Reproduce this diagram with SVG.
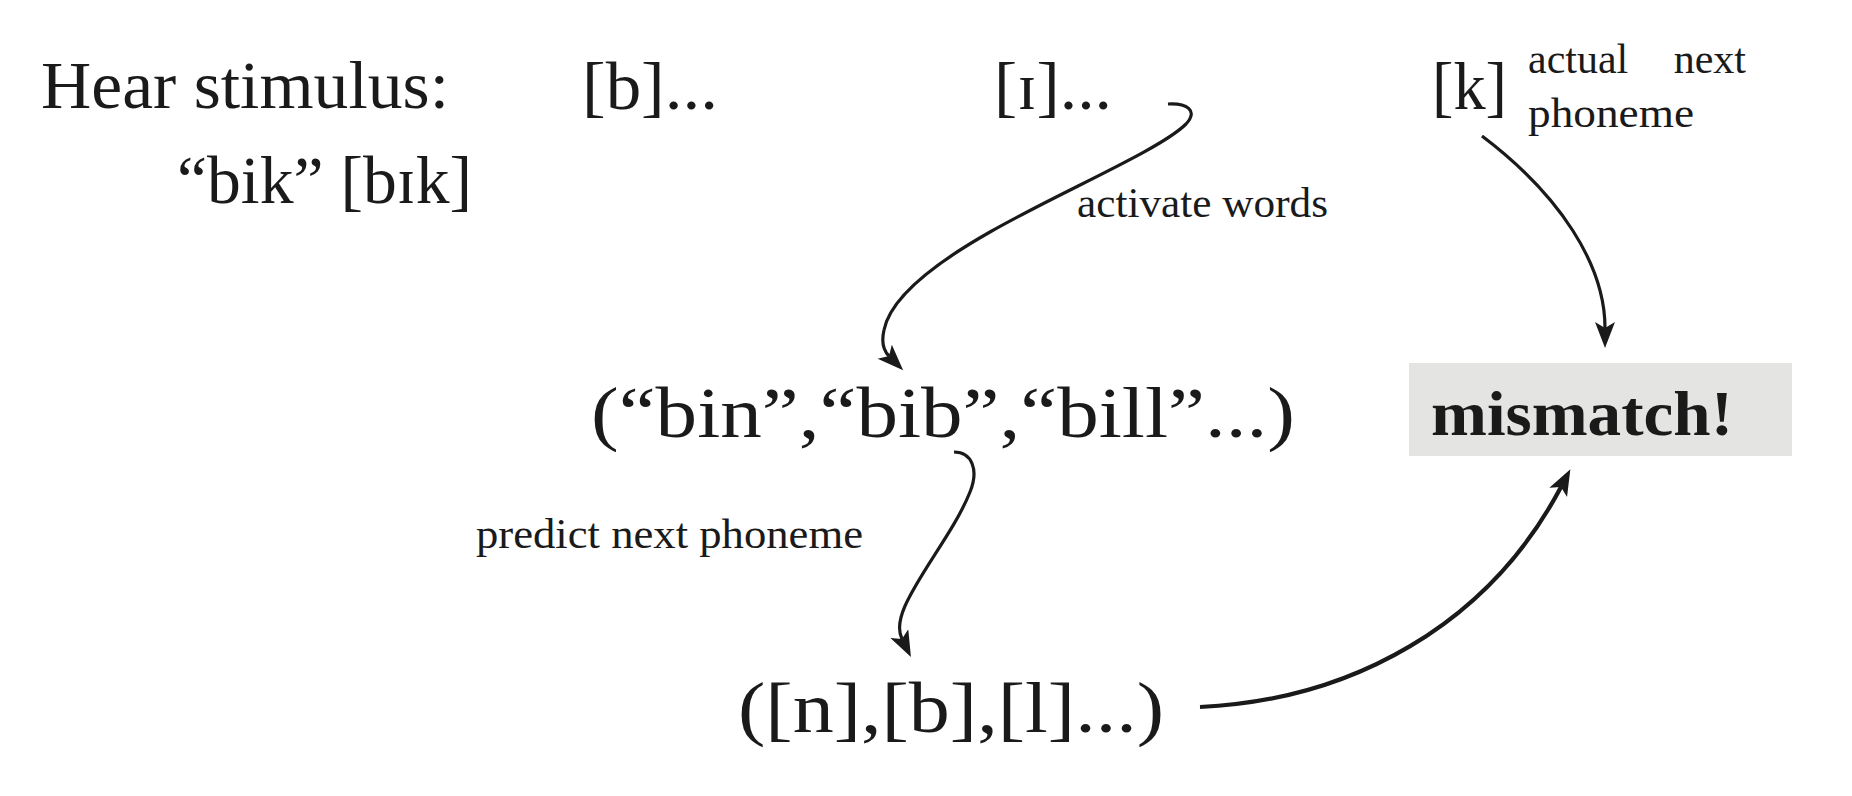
<svg xmlns="http://www.w3.org/2000/svg" width="1852" height="796" viewBox="0 0 1852 796">
<style>
text{font-family:"Liberation Serif","Times New Roman",serif;fill:#1a1a1a}
.big{font-size:68px}
.huge{font-size:72px}
.small{font-size:42px}
.bold{font-weight:bold;font-size:64px}
.conn{fill:none;stroke:#1a1a1a;stroke-width:3.2;stroke-linecap:butt}
.thick{stroke-width:4.2}
</style>
<defs>
<marker id="arr" markerUnits="userSpaceOnUse" markerWidth="30" markerHeight="24" viewBox="0 0 30 24" refX="6" refY="10" orient="auto">
<path d="M0,0 L26,10 L0,20 L6,10 Z" fill="#1a1a1a"/>
</marker>
</defs>
<rect width="1852" height="796" fill="#ffffff"/>

<g id="stimulus">
<text class="big" x="41" y="108" textLength="408" lengthAdjust="spacingAndGlyphs">Hear stimulus:</text>
<text class="big" x="177" y="203" textLength="295" lengthAdjust="spacingAndGlyphs">“bik” [bɪk]</text>
</g>
<g id="phone-b"><text class="big" x="582" y="109" textLength="136" lengthAdjust="spacingAndGlyphs">[b]...</text></g>
<g id="phone-i"><text class="big" x="994" y="109" textLength="118" lengthAdjust="spacingAndGlyphs">[ɪ]...</text></g>
<g id="phone-k">
<text class="big" x="1432" y="109" textLength="75" lengthAdjust="spacingAndGlyphs">[k]</text>
<text class="small" x="1528" y="73">actual</text>
<text class="small" x="1746" y="73" text-anchor="end">next</text>
<text class="small" x="1528" y="127" textLength="166" lengthAdjust="spacingAndGlyphs">phoneme</text>
</g>
<g id="words"><text class="huge" x="591" y="437" textLength="704" lengthAdjust="spacingAndGlyphs">(“bin”,“bib”,“bill”...)</text></g>
<g id="predictions"><text class="huge" x="738" y="732" textLength="426" lengthAdjust="spacingAndGlyphs">([n],[b],[l]...)</text></g>
<g id="mismatch">
<rect x="1409" y="363" width="383" height="93" fill="#e4e4e2"/>
<text class="bold" x="1431" y="435" textLength="302" lengthAdjust="spacingAndGlyphs">mismatch!</text>
</g>

<g id="connectors">
<path class="conn" d="M1168,104 C1186,103 1199,110 1186,124 C1160,150 1060,192 990,232 C930,266 890,300 884,330 C881,343 884,351 889,356" marker-end="url(#arr)"/>
<path class="conn" d="M954,452 C972,452 979,470 970,492 C955,530 920,572 905,606 C898,622 899,633 902,639" marker-end="url(#arr)"/>
<path class="conn" d="M1482,136 C1560,195 1605,265 1605,328" marker-end="url(#arr)"/>
<path class="conn thick" d="M1200,707 C1352,700 1488,625 1561,487" marker-end="url(#arr)"/>
</g>
<g id="labels">
<text class="small" x="1077" y="217" textLength="251" lengthAdjust="spacingAndGlyphs">activate words</text>
<text class="small" x="476" y="548" textLength="387" lengthAdjust="spacingAndGlyphs">predict next phoneme</text>
</g>
</svg>
